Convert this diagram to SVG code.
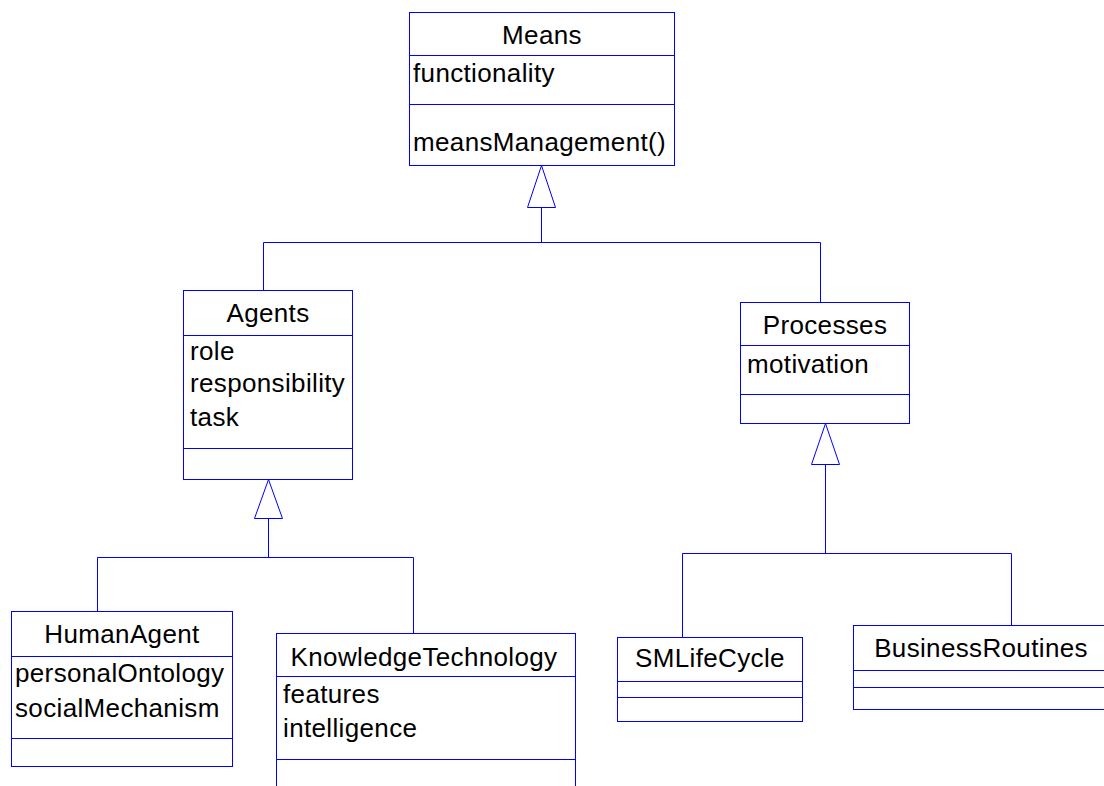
<svg xmlns="http://www.w3.org/2000/svg" width="1104" height="786" viewBox="0 0 1104 786">
  <style>
    .box { fill: #ffffff; stroke: #0000ff; stroke-width: 1; }
    .sep { stroke: #0000ff; stroke-width: 1; fill: none; }
    .edge { stroke: #0000ff; stroke-width: 1; fill: none; }
    .gen { fill: #ffffff; stroke: #0000ff; stroke-width: 1; }
    text { font-family: "Liberation Sans", Arial, sans-serif; font-size: 26px; letter-spacing: 0.35px; fill: #000000; }
    .title { text-anchor: middle; }
  </style>
  <rect width="1104" height="786" fill="#ffffff"/>

  <!-- generalization connectors -->
  <g id="connectors">
    <!-- Agents / Processes to Means -->
    <path class="edge" d="M541.5 207.5 V242.5 M263.5 242.5 H820.5 M263.5 242.5 V290.5 M820.5 242.5 V302.5"/>
    <polygon class="gen" points="541.5,165.5 527.5,207.5 555.5,207.5"/>
    <!-- HumanAgent / KnowledgeTechnology to Agents -->
    <path class="edge" d="M268.5 518.5 V557.5 M97.5 557.5 H413.5 M97.5 557.5 V611.5 M413.5 557.5 V633.5"/>
    <polygon class="gen" points="268.5,479.5 254.5,518.5 282.5,518.5"/>
    <!-- SMLifeCycle / BusinessRoutines to Processes -->
    <path class="edge" d="M825.5 464.5 V553.5 M682.5 553.5 H1011.5 M682.5 553.5 V637.5 M1011.5 553.5 V625.5"/>
    <polygon class="gen" points="825.5,423.5 811.5,464.5 839.5,464.5"/>
  </g>

  <g id="means">
    <rect class="box" x="409.5" y="12.5" width="265" height="153"/>
    <path class="sep" d="M409.5 55.5 H674.5 M409.5 104.5 H674.5"/>
    <text class="title" x="542" y="44">Means</text>
    <text x="413" y="82">functionality</text>
    <text x="413" y="151">meansManagement()</text>
  </g>

  <g id="agents">
    <rect class="box" x="183.5" y="290.5" width="169" height="189"/>
    <path class="sep" d="M183.5 335.5 H352.5 M183.5 448.5 H352.5"/>
    <text class="title" x="268" y="322">Agents</text>
    <text x="190" y="360">role</text>
    <text x="190" y="392">responsibility</text>
    <text x="190" y="426">task</text>
  </g>

  <g id="processes">
    <rect class="box" x="740.5" y="302.5" width="169" height="121"/>
    <path class="sep" d="M740.5 345.5 H909.5 M740.5 394.5 H909.5"/>
    <text class="title" x="825" y="334">Processes</text>
    <text x="747" y="373">motivation</text>
  </g>

  <g id="human-agent">
    <rect class="box" x="11.5" y="611.5" width="221" height="155"/>
    <path class="sep" d="M11.5 656.5 H232.5 M11.5 738.5 H232.5"/>
    <text class="title" x="122" y="643">HumanAgent</text>
    <text x="15" y="682">personalOntology</text>
    <text x="15" y="717">socialMechanism</text>
  </g>

  <g id="knowledge-technology">
    <rect class="box" x="276.5" y="633.5" width="299" height="170"/>
    <path class="sep" d="M276.5 676.5 H575.5 M276.5 759.5 H575.5"/>
    <text class="title" x="424" y="666">KnowledgeTechnology</text>
    <text x="283" y="703">features</text>
    <text x="283" y="737">intelligence</text>
  </g>

  <g id="sm-life-cycle">
    <rect class="box" x="617.5" y="637.5" width="185" height="84"/>
    <path class="sep" d="M617.5 681.5 H802.5 M617.5 697.5 H802.5"/>
    <text class="title" x="710" y="667">SMLifeCycle</text>
  </g>

  <g id="business-routines">
    <rect class="box" x="853.5" y="625.5" width="260" height="84"/>
    <path class="sep" d="M853.5 670.5 H1113.5 M853.5 687.5 H1113.5"/>
    <text class="title" x="981" y="657">BusinessRoutines</text>
  </g>
</svg>
